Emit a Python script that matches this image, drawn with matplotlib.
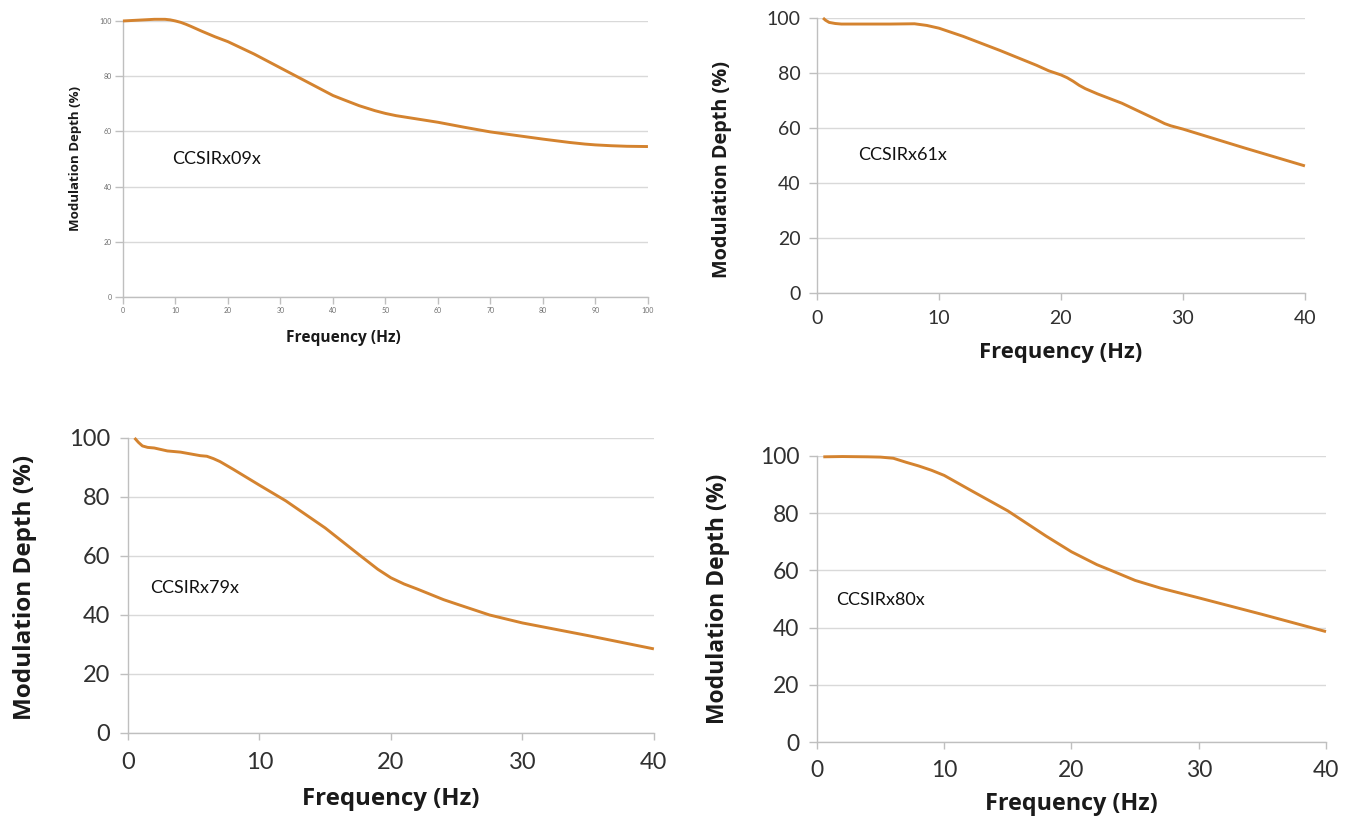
import matplotlib.pyplot as plt

# Modulation depth curves for four receivers
freq_09 = [0, 3, 6, 8, 9, 10, 11, 12, 13, 15, 17.5, 20, 25, 30, 35, 38, 40, 42, 45, 48, 50, 52, 55,
           60, 65, 70, 75, 80, 85, 88, 90, 93, 96, 100]
depth_09 = [100, 100.3, 100.6, 100.6, 100.4, 100, 99.5, 98.8, 98, 96.3, 94.3, 92.5, 88, 83, 78, 75,
            73, 71.5, 69.3, 67.5, 66.5, 65.7, 64.8, 63.3, 61.5, 59.8, 58.5, 57.2, 56, 55.4, 55.1,
            54.8, 54.6, 54.5]

freq_61 = [0.5, 0.7, 1, 1.5, 2, 4, 6, 8, 9, 10, 12, 15, 18, 19, 20, 20.5, 21, 21.5, 22, 23, 25,
           27, 28, 28.5, 29, 30, 35, 40]
depth_61 = [100, 99.2, 98.4, 98, 97.8, 97.8, 97.8, 97.9, 97.3, 96.3, 93.3, 88.2, 82.8, 80.8, 79.3,
            78.3, 77, 75.5, 74.3, 72.4, 69, 64.8, 62.7, 61.6, 60.8, 59.6, 52.8, 46.2]

freq_79 = [0.5, 0.8, 1.1, 1.5, 2, 3, 4, 5, 5.5, 6, 6.5, 7, 8, 10, 12, 15, 17.7, 19, 20, 21, 22,
           24, 25, 27.5, 30, 35, 40]
depth_79 = [100, 98.5, 97.3, 96.8, 96.6, 95.6, 95.2, 94.4, 94, 93.8, 93, 92, 89.4, 84, 78.7, 69.5,
            60, 55.5, 52.6, 50.5, 48.8, 45.2, 43.7, 40, 37.3, 33, 28.5]

freq_80 = [0.5, 2, 4, 5, 6, 6.5, 7, 8, 9, 10, 12, 15, 18, 20, 22, 23, 25, 27, 30, 35, 40]
depth_80 = [99.7, 99.8, 99.7, 99.6, 99.2, 98.5, 97.8, 96.5, 95, 93.2, 88.2, 80.8, 72, 66.5, 62,
            60.2, 56.5, 53.8, 50.4, 44.6, 38.6]

names = ['CCSIRx09x', 'CCSIRx61x', 'CCSIRx79x', 'CCSIRx80x']
freqs = [freq_09, freq_61, freq_79, freq_80]
depths = [depth_09, depth_61, depth_79, depth_80]
x_max = [100, 40, 40, 40]
x_step = [10, 10, 10, 10]

# layout for each panel: axes rect, font sizes, label positions, annotation spot
panels = [
    dict(rect=[0.0910, 0.6387, 0.3886, 0.3358], tick=5, xl=11.2, yl=9.5, tick_col='#707070',
         xl_pos=(0.42, -0.12), yl_pos=(-0.078, 0.50), note=(9.3, 50)),
    dict(rect=[0.6047, 0.6436, 0.3612, 0.3345], tick=14, xl=15.8, yl=14.3, tick_col='#303030',
         xl_pos=(0.50, -0.178), yl_pos=(-0.174, 0.45), note=(3.4, 50)),
    dict(rect=[0.0947, 0.1083, 0.3893, 0.3589], tick=17, xl=17.3, yl=17.5, tick_col='#303030',
         xl_pos=(0.50, -0.183), yl_pos=(-0.173, 0.495), note=(1.7, 49)),
    dict(rect=[0.6047, 0.0973, 0.3768, 0.3480], tick=16.5, xl=16.8, yl=16.5, tick_col='#303030',
         xl_pos=(0.50, -0.175), yl_pos=(-0.171, 0.50), note=(1.5, 49.6)),
]

line_color = '#D4832F'

fig = plt.figure(figsize=(13.51, 8.22), dpi=100)

for i, p in enumerate(panels):
    ax = fig.add_axes(p['rect'])
    ax.plot(freqs[i], depths[i], color=line_color, lw=2.1, clip_on=False, zorder=3,
            solid_capstyle='butt', solid_joinstyle='round')
    ax.set_xlim(0, x_max[i])
    ax.set_ylim(0, 100)
    ax.set_xticks(range(0, x_max[i] + 1, x_step[i]))
    ax.set_yticks(range(0, 101, 20))
    ax.grid(axis='y', color='#D9D9D9', lw=1.0)
    ax.set_axisbelow(True)
    for s in ['top', 'right']:
        ax.spines[s].set_visible(False)
    for s in ['left', 'bottom']:
        ax.spines[s].set_color('#BFBFBF')
        ax.spines[s].set_linewidth(1.0)
    ax.tick_params(axis='x', direction='out', length=5, width=1, color='#BFBFBF',
                   labelsize=p['tick'], labelcolor=p['tick_col'], pad=p['tick'] * 0.5)
    ax.tick_params(axis='y', direction='out', length=6, width=1, color='#BFBFBF',
                   labelsize=p['tick'], labelcolor=p['tick_col'], pad=p['tick'] * 0.4)
    for lab in ax.get_xticklabels() + ax.get_yticklabels():
        lab.set_family('Lato')
    ax.set_xlabel('Frequency (Hz)', fontsize=p['xl'], fontweight='bold', family='Open Sans',
                  color='#1a1a1a')
    ax.set_ylabel('Modulation Depth (%)', fontsize=p['yl'], fontweight='bold',
                  family='Open Sans', color='#1a1a1a')
    ax.xaxis.set_label_coords(*p['xl_pos'])
    ax.yaxis.set_label_coords(*p['yl_pos'])
    ax.text(p['note'][0], p['note'][1], names[i], fontsize=13, family='Lato',
            va='center', ha='left', color='#111111')

fig.savefig('out.png', dpi=100)
